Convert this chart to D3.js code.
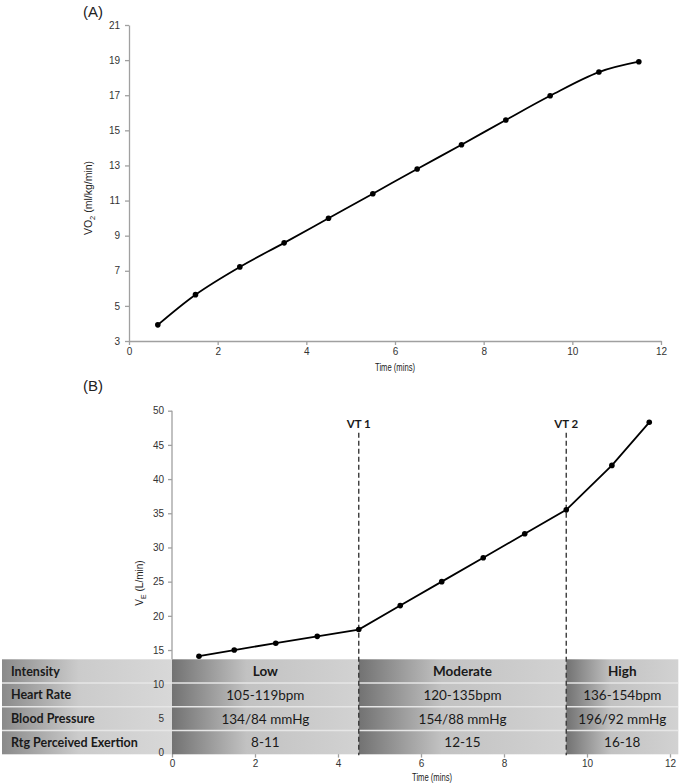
<!DOCTYPE html>
<html><head><meta charset="utf-8">
<script src="https://cdn.jsdelivr.net/npm/d3@7/dist/d3.min.js"></script>
<style>body{margin:0;background:#fff}svg{display:block}</style>
</head><body>
<script>
// ---- data ----
const timeMins = [0.65, 1.5, 2.5, 3.5, 4.5, 5.5, 6.5, 7.5, 8.5, 9.5, 10.6, 11.5];
const vo2 = [3.92, 5.64, 7.22, 8.59, 9.99, 11.39, 12.8, 14.18, 15.59, 16.97, 18.32, 18.91];
const ve = [14.1, 15, 16, 17, 18, 21.5, 25, 28.5, 32, 35.5, 42, 48.3];
const vtLabels = ["VT 1", "VT 2"];
const vtTimes = [4.5, 9.5];
const rowLabels = ["Intensity", "Heart Rate", "Blood Pressure", "Rtg Perceived Exertion"];
const zoneNames = ["Low", "Moderate", "High"];
const zoneBounds = [0, 4.5, 9.5, 12.2];
const heartRate = ["105-119bpm", "120-135bpm", "136-154bpm"];
const bloodPressure = ["134/84 mmHg", "154/88 mmHg", "196/92 mmHg"];
const rpe = ["8-11", "12-15", "16-18"];
const xTicks = [0, 2, 4, 6, 8, 10, 12];
const yTicksA = [3, 5, 7, 9, 11, 13, 15, 17, 19, 21];
const yTicksB = [0, 5, 10, 15, 20, 25, 30, 35, 40, 45, 50];

const W = 682, H = 784;
const svg = d3.select("body").append("svg").attr("width", W).attr("height", H);
const axisColor = "#a0a0a0";
const tickFont = "Liberation Sans, Arial, sans-serif";
const tableFont = "Lato, 'Open Sans', sans-serif";

const defs = svg.append("defs");
function grad(id, stops) {
  const g = defs.append("linearGradient").attr("id", id).attr("x1", 0).attr("x2", 1).attr("y1", 0).attr("y2", 0);
  stops.forEach(s => g.append("stop").attr("offset", s[0]).attr("stop-color", s[1]));
}
grad("labelGrad", [[0, "#8a8a8a"], [0.45, "#cbcbcb"], [1, "#d8d8d8"]]);
grad("cellGrad", [[0, "#727272"], [0.4, "#c2c2c2"], [1, "#d2d2d2"]]);

function styleAxis(g) {
  g.selectAll(".domain").attr("stroke", axisColor).attr("stroke-width", 1.3);
  g.selectAll(".tick line").attr("stroke", axisColor).attr("stroke-width", 1.3);
  g.selectAll(".tick text").attr("fill", "#333").attr("font-family", tickFont).attr("font-size", 10);
}

// ================= Panel A =================
const xA = d3.scaleLinear([0, 12], [129, 661]);
const yA = d3.scaleLinear([3, 21], [341, 25]);

svg.append("text").attr("x", 83).attr("y", 17).attr("font-family", tickFont).attr("font-size", 15).attr("fill", "#222").text("(A)");

svg.append("g").attr("transform", `translate(0,${yA(3)})`)
  .call(d3.axisBottom(xA).tickValues(xTicks).tickSize(4).tickPadding(3).tickSizeOuter(0).tickFormat(d3.format("d")))
  .call(styleAxis);
svg.append("g").attr("transform", `translate(${xA(0)},0)`)
  .call(d3.axisLeft(yA).tickValues(yTicksA).tickSize(4).tickPadding(5).tickSizeOuter(0).tickFormat(d3.format("d")))
  .call(styleAxis);

const ptsA = timeMins.map((t, i) => [t, vo2[i]]);
svg.append("path").datum(ptsA)
  .attr("d", d3.line().x(d => xA(d[0])).y(d => yA(d[1])).curve(d3.curveCatmullRom.alpha(0.5)))
  .attr("fill", "none").attr("stroke", "#000").attr("stroke-width", 1.8);
svg.append("g").selectAll("circle").data(ptsA).join("circle")
  .attr("cx", d => xA(d[0])).attr("cy", d => yA(d[1])).attr("r", 2.8).attr("fill", "#000");

const tA = svg.append("text").attr("x", 395).attr("y", 371).attr("text-anchor", "middle")
  .attr("font-family", tickFont).attr("font-size", 10).attr("fill", "#222")
  .attr("textLength", 40).attr("lengthAdjust", "spacingAndGlyphs").text("Time (mins)");

const yTitleA = svg.append("text").attr("transform", "translate(92,198) rotate(-90)").attr("text-anchor", "middle")
  .attr("font-family", tickFont).attr("font-size", 10.5).attr("fill", "#222");
yTitleA.append("tspan").text("VO");
yTitleA.append("tspan").attr("font-size", 7.5).attr("dy", 3).text("2");
yTitleA.append("tspan").attr("dy", -3).text(" (ml/kg/min)");

// ================= Panel B =================
const xB = d3.scaleLinear([0, 12], [172, 670]);
const yB = d3.scaleLinear([0, 50], [752.6, 410.7]);

svg.append("text").attr("x", 83).attr("y", 391).attr("font-family", tickFont).attr("font-size", 15).attr("fill", "#222").text("(B)");

// x axis (under the table)
svg.append("g").attr("transform", `translate(0,${yB(0)})`)
  .call(d3.axisBottom(xB).tickValues(xTicks).tickSize(5).tickPadding(2).tickSizeOuter(0).tickFormat(d3.format("d")))
  .call(styleAxis);

// table
const tableTop = 659.3, tableBottom = 754.3;
const rowH = (tableBottom - tableTop) / rowLabels.length;
const tableLeft = 2;
const tbl = svg.append("g");
rowLabels.forEach((lab, r) => {
  const y0 = tableTop + r * rowH;
  tbl.append("rect").attr("x", tableLeft).attr("y", y0).attr("width", xB(0) - tableLeft).attr("height", rowH)
    .attr("fill", "url(#labelGrad)");
  zoneNames.forEach((z, c) => {
    tbl.append("rect").attr("x", xB(zoneBounds[c])).attr("y", y0)
      .attr("width", xB(zoneBounds[c + 1]) - xB(zoneBounds[c])).attr("height", rowH)
      .attr("fill", "url(#cellGrad)");
  });
});
for (let r = 1; r < rowLabels.length; r++) {
  tbl.append("line").attr("x1", tableLeft).attr("x2", xB(zoneBounds[3]))
    .attr("y1", tableTop + r * rowH).attr("y2", tableTop + r * rowH)
    .attr("stroke", "#e6e6e6").attr("stroke-width", 1.5);
}
rowLabels.forEach((lab, r) => {
  tbl.append("text").attr("x", 11).attr("y", tableTop + (r + 0.5) * rowH).attr("dy", "0.36em")
    .attr("font-family", tableFont).attr("font-weight", "bold").attr("font-size", 12.5).attr("fill", "#1a1a1a").text(lab);
});
const rowsVals = [zoneNames, heartRate, bloodPressure, rpe];
rowsVals.forEach((vals, r) => {
  vals.forEach((v, c) => {
    tbl.append("text").attr("x", (xB(zoneBounds[c]) + xB(zoneBounds[c + 1])) / 2)
      .attr("y", tableTop + (r + 0.5) * rowH).attr("dy", "0.36em").attr("text-anchor", "middle")
      .attr("font-family", tableFont).attr("font-weight", r === 0 ? "bold" : "normal")
      .attr("font-size", 13.5).attr("fill", "#1a1a1a").text(v);
  });
});

// y axis B
const gyB = svg.append("g").attr("transform", `translate(${xB(0)},0)`)
  .call(d3.axisLeft(yB).tickValues(yTicksB).tickSize(4).tickPadding(4).tickSizeOuter(0).tickFormat(d3.format("d")))
  .call(styleAxis);
gyB.select(".domain").remove();
gyB.selectAll(".tick line").filter(d => yB(d) > tableTop).remove();
gyB.append("line").attr("x1", 0).attr("x2", 0).attr("y1", yB(50)).attr("y2", tableTop)
  .attr("stroke", axisColor).attr("stroke-width", 1.3);

// VT lines
vtTimes.forEach((t, i) => {
  svg.append("line").attr("x1", xB(t)).attr("x2", xB(t)).attr("y1", yB(50) + 22).attr("y2", tableBottom + 1)
    .attr("stroke", "#3a3a3a").attr("stroke-width", 1.4).attr("stroke-dasharray", "5,3");
  svg.append("text").attr("x", xB(t)).attr("y", yB(50) + 13).attr("dy", "0.36em").attr("text-anchor", "middle")
    .attr("font-family", tableFont).attr("font-weight", "bold").attr("font-size", 11.5).attr("fill", "#1a1a1a")
    .text(vtLabels[i]);
});

// VE line
const ptsB = timeMins.map((t, i) => [t, ve[i]]);
svg.append("path").datum(ptsB)
  .attr("d", d3.line().x(d => xB(d[0])).y(d => yB(d[1])))
  .attr("fill", "none").attr("stroke", "#000").attr("stroke-width", 1.8);
svg.append("g").selectAll("circle").data(ptsB).join("circle")
  .attr("cx", d => xB(d[0])).attr("cy", d => yB(d[1])).attr("r", 2.8).attr("fill", "#000");

svg.append("text").attr("x", 432).attr("y", 781).attr("text-anchor", "middle")
  .attr("font-family", tickFont).attr("font-size", 10).attr("fill", "#222")
  .attr("textLength", 40).attr("lengthAdjust", "spacingAndGlyphs").text("Time (mins)");

const yTitleB = svg.append("text").attr("transform", "translate(143,583) rotate(-90)").attr("text-anchor", "middle")
  .attr("font-family", tickFont).attr("font-size", 10).attr("fill", "#222");
yTitleB.append("tspan").text("V");
yTitleB.append("tspan").attr("font-size", 7).attr("dy", 3).text("E");
yTitleB.append("tspan").attr("dy", -3).text(" (L/min)");
</script>
</body></html>
